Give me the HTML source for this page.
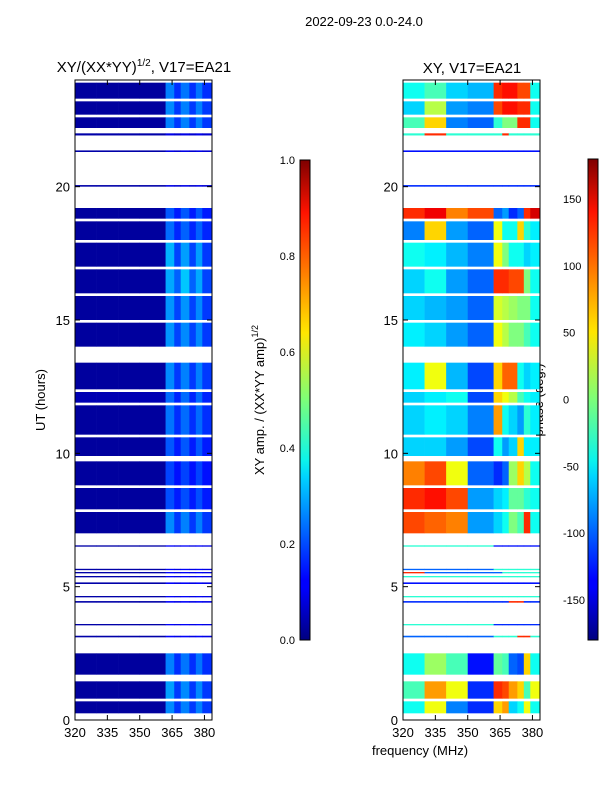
<!DOCTYPE html>
<html><head><meta charset="utf-8">
<style>
body{margin:0;background:#fff;width:600px;height:800px;overflow:hidden;font-family:"Liberation Sans","DejaVu Sans",sans-serif}
svg text{font-family:"Liberation Sans","DejaVu Sans",sans-serif;fill:#000}
</style></head><body>
<svg id="fig" width="600" height="800" xmlns="http://www.w3.org/2000/svg">
<defs>
<linearGradient id="jet" x1="0" y1="1" x2="0" y2="0">
<stop offset="0" stop-color="#00007f"/><stop offset="0.11" stop-color="#0000ff"/><stop offset="0.125" stop-color="#0000ff"/>
<stop offset="0.34" stop-color="#00d4ff"/><stop offset="0.375" stop-color="#0cf4eb"/><stop offset="0.5" stop-color="#7cff79"/>
<stop offset="0.64" stop-color="#ffe600"/><stop offset="0.66" stop-color="#ffd700"/><stop offset="0.89" stop-color="#ff1300"/>
<stop offset="1" stop-color="#7f0000"/>
</linearGradient>
</defs>
<text x="364" y="26" font-size="13" text-anchor="middle">2022-09-23 0.0-24.0</text>
<text x="144" y="72" font-size="15" text-anchor="middle">XY/(XX*YY)<tspan font-size="10" dy="-6">1/2</tspan><tspan dy="6">, V17=EA21</tspan></text>
<text x="472" y="73" font-size="15" text-anchor="middle">XY, V17=EA21</text>
<text x="45" y="400" font-size="13" text-anchor="middle" transform="rotate(-90 45 400)">UT (hours)</text>
<text x="420" y="755" font-size="13" text-anchor="middle">frequency (MHz)</text>
<text x="264" y="400" font-size="13" text-anchor="middle" transform="rotate(-90 264 400)">XY amp. / (XX*YY amp)<tspan font-size="9" dy="-6">1/2</tspan></text>
<text x="543" y="400" font-size="13" text-anchor="middle" transform="rotate(-90 543 400)">phase (deg.)</text>
<g id="left"></g>
<g id="right"></g>
<g id="axes"></g>
<rect x="300" y="160" width="10" height="480" fill="url(#jet)" stroke="#000" stroke-width="1"/>
<rect x="588" y="159" width="10" height="481" fill="url(#jet)" stroke="#000" stroke-width="1"/>
</svg>
<script>
const freqEdges=[320,330,340,350,362,366,369,373,376,379,384];
const segments=[[0.25,0.7],[0.8,1.45],[1.7,2.5],[3.1,3.16],[3.55,3.6],[4.4,4.46],[4.6,4.65],[5.1,5.16],[5.35,5.4],[5.5,5.55],[5.62,5.67],[6.5,6.55],
[7.0,7.8],[7.9,8.7],[8.8,9.7],[9.9,10.6],[10.7,11.8],[11.9,12.3],[12.4,13.4],[14.0,14.9],[15.0,15.9],[16.0,16.9],[17.0,17.9],[18.0,18.7],[18.8,19.2],
[20.0,20.06],[21.3,21.36],[21.92,22.0],[22.2,22.6],[22.7,23.2],[23.3,23.9]];
const ampRows=[
[0.03,0.03,0.03,0.03,0.26,0.18,0.25,0.18,0.25,0.18],[0.03,0.03,0.03,0.03,0.28,0.18,0.26,0.18,0.26,0.18],[0.03,0.03,0.03,0.03,0.25,0.17,0.24,0.17,0.24,0.17],
[0.04,0.04,0.04,0.04,0.12,0.10,0.12,0.10,0.12,0.10],[0.04,0.04,0.04,0.04,0.12,0.10,0.12,0.10,0.12,0.10],[0.04,0.04,0.04,0.04,0.12,0.10,0.12,0.10,0.12,0.10],
[0.04,0.04,0.04,0.04,0.12,0.10,0.12,0.10,0.12,0.10],[0.04,0.04,0.04,0.04,0.12,0.10,0.12,0.10,0.12,0.10],[0.04,0.04,0.04,0.04,0.12,0.10,0.12,0.10,0.12,0.10],
[0.04,0.04,0.04,0.04,0.12,0.10,0.12,0.10,0.12,0.10],[0.04,0.04,0.04,0.04,0.12,0.10,0.12,0.10,0.12,0.10],[0.04,0.04,0.04,0.04,0.12,0.10,0.12,0.10,0.12,0.10],
[0.03,0.03,0.03,0.03,0.26,0.18,0.25,0.18,0.25,0.18],[0.03,0.03,0.03,0.03,0.20,0.15,0.20,0.15,0.20,0.15],[0.03,0.03,0.03,0.03,0.19,0.14,0.19,0.14,0.19,0.14],
[0.03,0.03,0.03,0.03,0.21,0.15,0.21,0.15,0.21,0.15],[0.03,0.03,0.03,0.03,0.24,0.17,0.23,0.17,0.23,0.17],[0.05,0.05,0.05,0.05,0.23,0.16,0.23,0.16,0.23,0.16],
[0.03,0.03,0.03,0.03,0.26,0.18,0.25,0.18,0.25,0.18],[0.03,0.03,0.03,0.03,0.27,0.19,0.26,0.19,0.26,0.18],[0.03,0.03,0.03,0.03,0.27,0.19,0.27,0.19,0.26,0.18],
[0.03,0.03,0.03,0.03,0.29,0.22,0.32,0.22,0.29,0.19],[0.03,0.03,0.03,0.03,0.30,0.19,0.28,0.19,0.28,0.18],[0.03,0.03,0.03,0.03,0.23,0.16,0.22,0.16,0.22,0.16],
[0.03,0.03,0.03,0.03,0.21,0.15,0.21,0.15,0.21,0.15],
[0.04,0.04,0.04,0.04,0.10,0.08,0.10,0.08,0.10,0.08],[0.04,0.04,0.04,0.04,0.10,0.08,0.10,0.08,0.10,0.08],[0.04,0.04,0.04,0.04,0.10,0.08,0.10,0.08,0.10,0.08],
[0.03,0.03,0.03,0.03,0.25,0.18,0.25,0.18,0.25,0.18],[0.03,0.03,0.03,0.03,0.26,0.18,0.25,0.18,0.25,0.18],[0.03,0.03,0.03,0.03,0.25,0.17,0.24,0.17,0.24,0.17]];
const phaseRows=[
[-40,40,-90,-120,60,80,-60,-40,40,-40],[-20,80,40,-120,120,110,80,60,-20,40],[-40,10,-20,-130,-10,-20,-100,-110,60,-40],
[-100,-100,-100,-100,-30,-30,-30,120,120,-30],[-30,-30,-30,-30,-120,-120,-120,-120,-120,-120],[-120,-120,-120,-120,-120,-120,120,120,-120,-120],
[-30,-30,-30,-30,-30,-30,-30,-30,-30,-30],[-130,-130,-130,-130,-130,-130,-130,-130,-130,-130],[-30,-30,-30,-30,-30,-30,-30,-30,-30,-30],
[120,-100,-100,-100,-100,-30,-30,-30,-30,-30],[-100,-100,-100,-100,-30,-30,-30,-30,-30,-30],[-30,-30,-30,-30,-130,-130,-130,-130,-130,-130],
[110,100,90,-80,-60,-40,0,-20,120,-40],[120,130,110,-80,-60,-50,-10,-10,-30,-40],[90,110,40,-100,-120,-100,10,60,20,-40],
[-60,-60,-80,-110,-40,-80,-60,60,-50,-50],[-60,-50,-60,-90,80,-40,-60,-80,-30,-50],[-60,-50,-40,-110,60,40,20,-20,-40,-50],
[-50,40,-70,-110,60,100,100,-40,-60,-50],[-50,-60,-80,-100,40,20,0,0,-20,-40],[-60,-70,-80,-100,30,20,10,0,0,-40],
[-60,-40,-80,-100,120,120,110,110,0,-40],[-40,-50,-70,-90,40,0,-40,-40,-60,-50],[-90,60,-80,-100,40,-40,-40,60,-30,-50],
[120,140,90,110,-100,-80,-120,-100,120,150],
[-120,-120,-120,-120,-120,-120,-120,-120,-120,-120],[-130,-130,-130,-130,-130,-130,-130,-130,-130,-130],[-30,120,-30,-30,-30,120,-30,-30,-30,-30],
[-20,60,-90,-100,-30,0,0,120,120,-40],[-60,20,-80,-90,110,130,130,120,120,-40],[-40,-20,-60,-70,120,130,130,110,110,-40]];
const yTicks=[0,5,10,15,20];
const xTicks=[320,335,350,365,380];
const ampTicks=[0.0,0.2,0.4,0.6,0.8,1.0];
const phaseTicks=[-150,-100,-50,0,50,100,150];

const NS='http://www.w3.org/2000/svg';
const T0=0,T1=24,Y0=720,Y1=80;
function yScale(t){return Y0+(t-T0)/(T1-T0)*(Y1-Y0);}
function xScaleL(f){return 75+(f-320)/(383.5-320)*137;}
function xScaleR(f){return 403+(f-320)/(383.5-320)*137;}
function clampx(v,a,b){return Math.max(a,Math.min(b,v));}
function jet(v){v=Math.max(0,Math.min(1,v));
 const r=Math.max(0,Math.min(1,1.5-Math.abs(4*v-3))),g=Math.max(0,Math.min(1,1.5-Math.abs(4*v-2))),b=Math.max(0,Math.min(1,1.5-Math.abs(4*v-1)));
 return 'rgb('+Math.round(r*255)+','+Math.round(g*255)+','+Math.round(b*255)+')';}
function el(tag,attrs,parent){const e=document.createElementNS(NS,tag);for(const k in attrs)e.setAttribute(k,attrs[k]);parent.appendChild(e);return e;}
const L=document.getElementById('left'),R=document.getElementById('right'),A=document.getElementById('axes');
segments.forEach((s,i)=>{
 const ya=yScale(s[1]),yb=yScale(s[0]);
 for(let j=0;j<freqEdges.length-1;j++){
  const xa=clampx(xScaleL(freqEdges[j]),75,212),xb=clampx(xScaleL(freqEdges[j+1]),75,212);
  const r=el('rect',{x:xa,y:ya,width:xb-xa+0.3,height:yb-ya,fill:jet(ampRows[i][j])},L);
  
  
  const xc=clampx(xScaleR(freqEdges[j]),403,540),xd=clampx(xScaleR(freqEdges[j+1]),403,540);
  const p=el('rect',{x:xc,y:ya,width:xd-xc+0.3,height:yb-ya,fill:jet((phaseRows[i][j]+180)/360)},R);
  
  
 }
});
[[75,xScaleL,'left'],[403,xScaleR,'right']].forEach(([x0,xs,nm])=>{
 const f=el('rect',{x:x0,y:80,width:137,height:640,fill:'none',stroke:'#000','stroke-width':1},A);
 
 
 yTicks.forEach(t=>{const y=yScale(t);
  el('line',{x1:x0,x2:x0+5,y1:y,y2:y,stroke:'#000'},A);el('line',{x1:x0+137,x2:x0+132,y1:y,y2:y,stroke:'#000'},A);
  const tx=el('text',{x:x0-5,y:y+5,'font-size':13,'text-anchor':'end'},A);tx.textContent=t;
  
  });
 xTicks.forEach(v=>{const x=xs(v);
  el('line',{x1:x,x2:x,y1:720,y2:715,stroke:'#000'},A);el('line',{x1:x,x2:x,y1:80,y2:85,stroke:'#000'},A);
  const tx=el('text',{x:x,y:737,'font-size':13,'text-anchor':'middle'},A);tx.textContent=v;
  
  });
});
ampTicks.forEach(v=>{const y=640-v*480;
 el('line',{x1:300,x2:310,y1:y,y2:y,stroke:'#000'},A);
 const tx=el('text',{x:295,y:y+4,'font-size':11,'text-anchor':'end'},A);tx.textContent=v.toFixed(1);
 
 });
phaseTicks.forEach(v=>{const y=399.5-v*401/300;
 el('line',{x1:588,x2:598,y1:y,y2:y,stroke:'#000'},A);
 const tx=el('text',{x:563,y:y+4,'font-size':11},A);tx.textContent=v;
 
 });
</script>
</body></html>
